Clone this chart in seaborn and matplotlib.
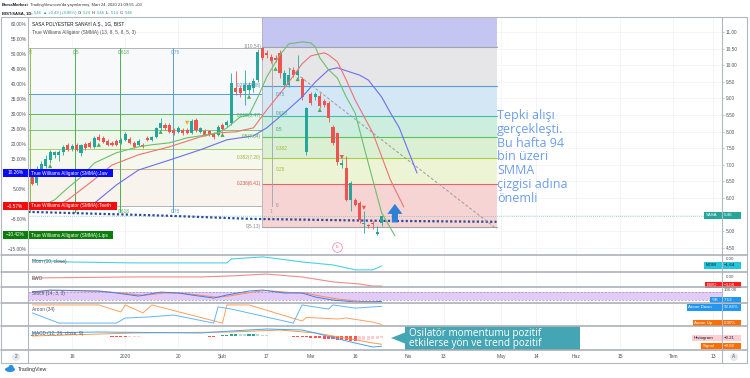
import matplotlib
matplotlib.use("Agg")
import matplotlib.pyplot as plt
from matplotlib.patches import Rectangle, Polygon, Circle, Ellipse
import seaborn as sns

# ---------------- data ----------------
bar_idx = list(range(-9, 71))          # trading-day index, 0 = 16 Dec 2019, 70 = 24 Mar 2020
opens = [6.63, 6.45, 6.88, 6.95, 7.14, 7.29, 7.29, 7.39, 7.60, 7.48,
         7.60, 7.36, 7.63, 7.66, 7.54, 7.84, 7.81, 7.72, 7.66, 7.72,
         7.66, 7.75, 7.78, 7.66, 7.60, 7.60, 7.80, 7.75, 7.84, 8.11,
         8.20, 8.20, 8.05, 7.99, 8.05, 8.05, 7.96, 8.35, 7.99, 8.02,
         8.02, 7.93, 7.90, 8.20, 8.20, 8.26, 9.31, 9.31, 9.22, 9.25,
         9.31, 9.55, 10.52, 10.37, 10.25, 10.22, 10.37, 9.40, 9.40, 9.85,
         9.70, 9.58, 7.39, 9.13, 9.04, 9.07, 8.92, 8.86, 8.14, 7.96,
         7.00, 6.90, 5.94, 5.94, 5.85, 5.20, 5.18, 5.25, 4.90, 5.24]
highs = [6.72, 6.95, 7.10, 7.30, 7.45, 7.42, 7.45, 7.60, 7.66, 7.62,
         7.66, 7.63, 7.68, 7.72, 7.85, 7.92, 7.85, 7.78, 7.70, 7.78,
         7.80, 7.98, 7.84, 7.70, 7.78, 7.66, 7.86, 7.88, 8.15, 8.41,
         8.26, 8.25, 8.10, 8.16, 8.10, 8.12, 8.38, 8.40, 8.15, 8.08,
         8.06, 7.98, 8.20, 8.26, 8.36, 9.76, 9.82, 9.40, 9.85, 9.50,
         9.60, 10.50, 10.54, 10.45, 10.35, 10.30, 10.45, 9.85, 9.90, 9.95,
         10.30, 9.65, 8.75, 9.20, 9.20, 9.15, 8.98, 8.92, 8.20, 8.00,
         7.18, 7.25, 6.50, 6.00, 5.90, 5.60, 5.22, 5.30, 5.15, 5.46]
lows = [6.38, 6.40, 6.80, 6.90, 7.05, 7.20, 7.10, 7.30, 7.40, 7.42,
        7.40, 7.25, 7.45, 7.50, 7.50, 7.70, 7.65, 7.55, 7.55, 7.55,
        7.62, 7.70, 7.62, 7.50, 7.55, 7.50, 7.70, 7.70, 7.80, 8.05,
        8.05, 7.95, 7.90, 7.95, 7.90, 7.92, 7.92, 8.00, 7.95, 7.86,
        7.86, 7.78, 7.85, 8.02, 8.15, 8.20, 9.10, 9.05, 8.80, 9.12,
        9.20, 9.50, 10.15, 10.20, 10.05, 10.10, 9.60, 9.30, 9.35, 9.65,
        9.60, 8.95, 7.30, 8.80, 8.95, 8.70, 8.75, 8.30, 7.60, 7.00,
        6.90, 5.90, 5.60, 5.75, 5.25, 4.95, 5.08, 5.05, 4.88, 5.14]
closes = [6.42, 6.88, 7.02, 7.17, 7.38, 7.38, 7.38, 7.54, 7.45, 7.57,
          7.45, 7.60, 7.51, 7.54, 7.81, 7.75, 7.69, 7.60, 7.60, 7.60,
          7.75, 7.93, 7.66, 7.54, 7.72, 7.54, 7.75, 7.84, 8.11, 8.26,
          8.11, 7.99, 7.96, 8.11, 7.96, 7.96, 8.32, 8.05, 8.11, 7.90,
          7.90, 7.84, 8.14, 8.08, 8.29, 9.46, 9.19, 9.16, 9.40, 9.40,
          9.52, 10.40, 10.22, 10.31, 10.13, 10.16, 9.76, 9.76, 9.70, 9.70,
          9.82, 9.04, 8.71, 8.86, 9.13, 8.77, 8.80, 8.41, 7.66, 7.08,
          7.05, 5.94, 6.45, 5.79, 5.34, 5.25, 5.14, 5.20, 4.98, 5.46]

jaw_idx = [4, 10, 15, 22, 29, 35, 41, 44, 48, 52, 55, 58, 60, 62, 65, 67, 70, 72, 74, 78]
jaw_val = [5.73, 6.39, 6.84, 7.14, 7.45, 7.75, 7.87, 8.11, 8.56, 9.04,
           9.49, 9.86, 9.92, 9.83, 9.70, 9.55, 9.04, 8.56, 8.11, 6.75]
teeth_idx = [-3, -1, 4, 9, 15, 22, 29, 33, 37, 41, 44, 48, 50, 52, 54, 57, 58, 60, 62, 64, 68, 72, 75]
teeth_val = [5.79, 5.94, 6.45, 6.99, 7.30, 7.54, 7.84, 7.96, 7.99, 8.11,
             8.65, 9.31, 9.67, 10.04, 10.28, 10.37, 10.31, 10.10, 9.55, 8.95,
             7.96, 6.54, 5.73]
lips_idx = [-5, -4, -1, 2, 5, 10, 15, 18, 22, 26, 29, 33, 35, 38, 40, 42, 44, 47, 49, 52,
            54, 55, 56, 58, 60, 62, 64, 66, 68, 70, 73]
lips_val = [5.88, 5.94, 6.30, 6.63, 7.05, 7.36, 7.54, 7.60, 7.66, 7.81,
            7.87, 7.96, 8.11, 8.44, 8.50, 9.04, 9.64, 10.31, 10.64, 10.70,
            10.67, 10.55, 10.22, 9.86, 9.61, 9.04, 8.56, 7.54, 6.54, 5.55, 4.86]

wk_idx = [-10, 20, 40, 70, 96]          # dotted weekly SMMA
wk_val = [5.58, 5.47, 5.37, 5.31, 5.28]
diag_idx = [49, 96]                     # grey dashed trend line
diag_val = [9.92, 5.07]

frac_up_idx = [-5, 6, 20, 34, 40, 46, 51, 56]
frac_up_val = [6.96, 7.60, 7.99, 7.90, 9.05, 9.89, 9.58, 8.65]
frac_dn_idx = [61, 66]
frac_dn_val = [7.23, 5.70]
frac_or_idx = [26]
frac_or_val = [8.26]

fib_right = [10.54, 9.38, 8.47, 7.84, 7.20, 6.41, 5.13]
fib_right_lbl = ["1(10.54)", "0.786(9.38)", "0.618(8.47)", "0.5(7.84)",
                 "0.382(7.20)", "0.236(6.41)", "0(5.13)"]
fib_left = [10.52, 9.13, 8.53, 8.05, 7.48, 6.87, 5.76]
fib_left_lbl = ["", "0.75", "0.618", "0.5", "0.382", "0.25", "0"]
ftime_idx = [-9.5, 0.7, 10.9, 22.9, 45.2]
ftime_top = ["32", "0.5", "0.618", "0.75", ""]
ftime_bot = ["0", "0.5", "0.618", "0.75", "1"]

mom_idx = [-9, -1, 14, 29, 35, 36, 43, 45, 52, 59, 64, 68, 69, 70]
mom_val = [0.8, 0.0, -0.4, -0.4, -0.4, 1.25, 2.1, 1.7, 0.0, -1.25, -3.3, -3.3, -2.5, -1.64]
ewo_idx = [-9, 14, 29, 36, 44, 52, 59, 65, 68, 70]
ewo_val = [0.0, 0.4, 0.4, 0.8, 1.5, 0.4, -1.5, -2.3, -3.1, -3.08]
stk_idx = [-9, -5, 6, 10, 15, 20, 24, 27, 32, 35, 40, 43, 48, 52, 55, 59, 64, 68, 70]
stk_val = [77, 92, 85, 70, 47, 77, 70, 55, 32, 55, 85, 92, 70, 70, 40, 17, 3, 3, 7.13]
std_idx = [-9, -4, 7, 11, 16, 21, 25, 28, 33, 36, 41, 44, 49, 53, 56, 60, 65, 68, 70]
std_val = [80, 88, 82, 70, 52, 70, 68, 57, 38, 50, 78, 88, 75, 68, 48, 25, 8, 4, 4]
aru_idx = [-9, 6, 11, 12, 16, 18, 34, 35, 40, 52, 53, 60, 62, 68, 70]
aru_val = [100, 100, 64, 100, 59, 100, 7, 100, 100, 18, 36, 28, 33, 12, 0]
ard_idx = [-9, -3, 10, 12, 17, 23, 32, 33, 36, 50, 52, 58, 59, 64, 68, 70]
ard_val = [59, 7, 7, 33, 38, 48, 7, 90, 79, 7, 100, 79, 100, 84, 90, 92.86]
macd_idx = [-9, 6, 29, 36, 44, 52, 55, 63, 68, 70]
macd_val = [0.3, 0.4, 0.3, 0.5, 0.7, 0.6, 0.3, -0.6, -1.1, -1.03]
sig_idx = [-9, 14, 36, 47, 55, 63, 68, 70]
sig_val = [0.0, 0.3, 0.4, 0.6, 0.3, -0.3, -0.7, -0.82]
hist_val = [0.15, 0.15, 0.12, 0.12, 0.10, 0.10, 0.08,
            0.05, 0.04, 0.03, 0.03, 0.02, 0.02, 0.02, 0.01, 0.01, 0.0, -0.02,
            -0.05, -0.08, -0.10, -0.10, -0.08, -0.06, -0.05,
            -0.03, -0.02, 0.0, 0.02, 0.03, 0.02, 0.0, -0.02, -0.03, -0.02, 0.0, 0.02, 0.02, 0.0, -0.03,
            -0.08, -0.10,
            0.05, 0.10, 0.15, 0.20, 0.22, 0.20, 0.18, 0.20, 0.22, 0.20, 0.15, 0.10,
            0.05, 0.02, 0.0, -0.02, -0.03, -0.05,
            -0.08, -0.10, -0.12, -0.15, -0.18, -0.20, -0.25, -0.30,
            -0.32, -0.35, -0.40, -0.42, -0.45, -0.45, -0.42, -0.40,
            -0.35, -0.30, -0.26, -0.21]

tick_idx = [0, 12, 24, 34, 44, 54, 64, 76, 84, 97, 105, 114, 124, 136, 145]
tick_lbl = ["16", "2020", "20", "Şub", "17", "Mar", "16", "Nis", "13", "May",
            "14", "Haz", "15", "Tem", "13"]
price_ticks = [4.5, 5.0, 5.5, 6.0, 6.5, 7.0, 7.5, 8.0, 8.5, 9.0, 9.5, 10.0, 10.5, 11.0]
price_hidden = [5.5]                 # covered by the SASA price label
pct_ticks = [60, 55, 50, 45, 40, 35, 30, 25, 20, 15, 10, 5, 0, -5, -10, -15]
pct_hidden = [10, 0, -10]            # covered by the alligator labels

# ---------------- style ----------------
sns.set_theme(style="white")
plt.rcParams['font.family'] = ['Liberation Sans', 'DejaVu Sans']
SM = 3.4
DARK = '#131722'
GREY = '#50535e'
UP, DN = '#26a69a', '#ef5350'
GRID = '#eef1f6'

fig = plt.figure(figsize=(7.5, 3.78), dpi=100)
fig.patch.set_facecolor('white')
W, H = 750.0, 378.0
XLIM = (-10, 147)


def rect(top, bottom, left=28, right=722):
    return [left / W, 1 - bottom / H, (right - left) / W, (bottom - top) / H]


def base(a, ylim):
    a.set_xlim(XLIM)
    a.set_ylim(*ylim)
    a.set_xticks(tick_idx)
    a.set_xticklabels([])
    a.tick_params(axis='x', length=0)
    a.grid(True, axis='x', color=GRID, lw=0.5)
    a.set_axisbelow(True)
    for s in a.spines.values():
        s.set_visible(False)
    a.set_facecolor('white')


# ---------------- main price panel ----------------
ax = fig.add_axes(rect(17, 255))
base(ax, (4.28, 11.45))
ax.grid(True, axis='y', color=GRID, lw=0.5)

# left fibonacci structure
L0, L1 = -10, 45.2
left_cols = ['#f8f9fa', '#eaf3fa', '#e7f5ea', '#eef7e9', '#f5f8ec', '#f8f3ec']
left_line = ['#b0b3ba', '#5b9bd5', '#5cb85c', '#7cc47f', '#a9cf6c', '#d4b48a', '#b0b3ba']
for i in range(len(fib_left) - 1):
    ax.add_patch(Rectangle((L0, fib_left[i + 1]), L1 - L0, fib_left[i] - fib_left[i + 1],
                           color=left_cols[i], lw=0, zorder=0.6))
for lv, c in zip(fib_left, left_line):
    ax.plot([L0, L1], [lv, lv], color=c, lw=0.7, zorder=0.8)
ftime_cols = ['#8bc34a', '#4caf50', '#4caf50', '#5b9bd5', '#9e9e9e']
for xi, c, t1, t2 in zip(ftime_idx, ftime_cols, ftime_top, ftime_bot):
    ax.plot([xi, xi], [fib_left[-1] - 0.18, fib_left[0]], color=c, lw=0.7, zorder=0.8)
    ax.text(xi - 0.6, fib_left[0] - 0.07, t1, color=c, fontsize=SM, va='top', ha='left')
    ax.text(xi - 0.6, 5.58, t2, color=c, fontsize=SM, va='center', ha='left')

# right fibonacci retracement box
R0, R1 = 43, 96.2
right_cols = ['#c5c5f1', '#e6e6e8', '#d3e7f4', '#cdeedf', '#dbf0d2', '#edf4d6', '#f7d4d4']
right_line = ['#a0a3aa', '#5a9bd4', '#3fbf9f', '#5cc25c', '#a6cd45', '#e06666', '#a0a3aa']
lab_cols = ['#888a92', '#5b8fc7', '#35a889', '#50a850', '#97b83a', '#d9534f', '#888a92']
bounds = [11.45] + fib_right
for i in range(len(bounds) - 1):
    ax.add_patch(Rectangle((R0, bounds[i + 1]), R1 - R0, bounds[i] - bounds[i + 1],
                           color=right_cols[i], lw=0, zorder=0.9))
for lv, c, lab, lc in zip(fib_right, right_line, fib_right_lbl, lab_cols):
    ax.plot([R0, R1], [lv, lv], color=c, lw=0.8, zorder=1.0)
    ax.text(R0 - 0.3, lv + 0.02, lab, color=lc, fontsize=SM, ha='right', va='center', zorder=6)
ax.plot([R0, R0], [fib_right[-1], 11.45], color='#b0b3ba', lw=0.6, zorder=1.0)
ax.plot([45.2, 45.2], [5.76, 10.25], color='#a0a3aa', lw=0.6, zorder=1.1)
for lv, lab, lc in zip(fib_left[1:], fib_left_lbl[1:],
                       ['#5b8fc7', '#35a889', '#50a850', '#97b83a', '#97b83a', '#888a92']):
    ax.text(46, lv, lab, color=lc, fontsize=SM, ha='left', va='center', zorder=6)

# weekly dotted line, trend line, last price line
sns.lineplot(x=wk_idx, y=wk_val, ax=ax, color='#2a4a9a', lw=1.6,
             linestyle=(0, (1, 1)), sort=False, zorder=3)
sns.lineplot(x=diag_idx, y=diag_val, ax=ax, color='#9a9a9a', lw=0.7,
             linestyle=(0, (3, 2)), sort=False, zorder=3)
ax.axhline(closes[-1], color=UP, lw=0.5, ls=(0, (1, 2)), alpha=0.8, zorder=2)

# candles
cols = [UP if c >= o else DN for o, c in zip(opens, closes)]
bottoms = [min(o, c) for o, c in zip(opens, closes)]
heights = [max(abs(c - o), 0.025) for o, c in zip(opens, closes)]
ax.vlines(bar_idx, lows, highs, colors=cols, lw=0.6, zorder=4)
ax.bar(bar_idx, heights, bottom=bottoms, width=0.7, color=cols, lw=0, zorder=4.5)

# alligator
sns.lineplot(x=jaw_idx, y=jaw_val, ax=ax, color='#6e6ef0', lw=0.8, sort=False, zorder=5)
sns.lineplot(x=teeth_idx, y=teeth_val, ax=ax, color='#f07272', lw=0.8, sort=False, zorder=5)
sns.lineplot(x=lips_idx, y=lips_val, ax=ax, color='#6cbf6c', lw=0.8, sort=False, zorder=5)

# fractal markers
sns.scatterplot(x=frac_up_idx, y=frac_up_val, ax=ax, marker='^', s=9, color='#4caf50',
                edgecolor='none', zorder=6)
sns.scatterplot(x=frac_dn_idx, y=frac_dn_val, ax=ax, marker='v', s=9, color='#ef5350',
                edgecolor='none', zorder=6)
sns.scatterplot(x=frac_or_idx, y=frac_or_val, ax=ax, marker='v', s=9, color='#f9a825',
                edgecolor='none', zorder=6)

# event marker and arrow
sns.scatterplot(x=[60], y=[4.52], ax=ax, s=48, color='white', edgecolor='#f48fb1',
                linewidth=0.6, zorder=6)
ax.text(60, 4.52, "E", fontsize=3.2, color='#e57373', ha='center', va='center', zorder=7)
ax.annotate('', xy=(73, 5.82), xytext=(73, 5.26),
            arrowprops=dict(arrowstyle='simple,head_length=0.9,head_width=1.35,tail_width=0.55',
                            color='#2f7fd6', lw=0, mutation_scale=8, shrinkA=0, shrinkB=0),
            zorder=7)
ax.set_xlabel('')
ax.set_ylabel('')

# left percentage scale (twin) and right price scale
axp = ax.twinx()
axp.set_ylim(-17, 62.33)
axp.set_yticks(pct_ticks)
axp.set_yticklabels(["" if p in pct_hidden else f"{p:.2f}%".replace('-', '\u2212')
                     for p in pct_ticks])
axp.yaxis.tick_left()
axp.tick_params(axis='y', left=True, labelleft=True, right=False, labelright=False,
                length=0, labelsize=SM, pad=1.2, labelcolor=GREY)
axp.grid(False)
for s in axp.spines.values():
    s.set_visible(False)

ax.set_yticks(price_ticks)
ax.set_yticklabels(["" if p in price_hidden else f"{p:.2f}" for p in price_ticks])
ax.yaxis.tick_right()
ax.tick_params(axis='y', right=True, labelright=True, left=False, labelleft=False,
               length=1.5, width=0.4, color='#9598a1', labelsize=SM, pad=1.2,
               labelcolor=GREY)

# ---------------- sub panels ----------------
axm = fig.add_axes(rect(255, 272))
base(axm, (-4.2, 2.9))
axm.set_yticks([])
sns.lineplot(x=mom_idx, y=mom_val, ax=axm, color='#4dd0e1', lw=0.8, sort=False)

axe = fig.add_axes(rect(272, 287))
base(axe, (-3.46, 2.3))
axe.set_yticks([])
sns.lineplot(x=ewo_idx, y=ewo_val, ax=axe, color='#f28b8b', lw=0.8, sort=False)

axs = fig.add_axes(rect(287, 303))
base(axs, (-5, 115))
axs.set_yticks([])
axs.axhspan(20, 80, xmin=0, xmax=1, color='#e2ccf7', lw=0, zorder=0.7)
for lv in (20, 80):
    axs.axhline(lv, color='#9d8fb5', lw=0.5, ls=(0, (3, 2)), zorder=0.8)
sns.lineplot(x=std_idx, y=std_val, ax=axs, color='#ff8a50', lw=0.7, sort=False)
sns.lineplot(x=stk_idx, y=stk_val, ax=axs, color='#3d7ef0', lw=0.7, sort=False)

axa = fig.add_axes(rect(303, 326))
base(axa, (-8, 110))
axa.set_yticks([])
sns.lineplot(x=aru_idx, y=aru_val, ax=axa, color='#ffa060', lw=0.7, sort=False)
sns.lineplot(x=ard_idx, y=ard_val, ax=axa, color='#64b5f6', lw=0.7, sort=False)

axh = fig.add_axes(rect(326, 350))
base(axh, (-1.4, 1.0))
axh.set_yticks([])
hcols = []
for i, v in enumerate(hist_val):
    prev = hist_val[i - 1] if i > 0 else v
    if v >= 0:
        hcols.append('#26a69a' if v >= prev else '#b2dfdb')
    else:
        hcols.append('#ff5252' if v <= prev else '#ffcdd2')
axh.bar(bar_idx, hist_val, width=0.7, color=hcols, lw=0, zorder=2)
sns.lineplot(x=sig_idx, y=sig_val, ax=axh, color='#ff9a40', lw=0.7, sort=False)
sns.lineplot(x=macd_idx, y=macd_val, ax=axh, color='#42a5f5', lw=0.7, sort=False)

axt = fig.add_axes(rect(350, 363))
base(axt, (0, 1))
axt.set_yticks([])
axt.grid(False)
for xi, lab in zip(tick_idx, tick_lbl):
    axt.text(xi, 0.48, lab, fontsize=3.6, color=GREY, ha='center', va='center')

for a in (axm, axe, axs, axa, axh, axt):
    a.set_xlabel('')
    a.set_ylabel('')

# ---------------- overlay (pixel coordinates) ----------------
ov = fig.add_axes([0, 0, 1, 1], zorder=10)
ov.set_xlim(0, W)
ov.set_ylim(H, 0)
ov.axis('off')
ov.patch.set_alpha(0)


def T(x, y, s, size=SM, color=DARK, ha='left', va='center', weight='normal', **kw):
    return ov.text(x, y, s, fontsize=size, color=color, ha=ha, va=va, fontweight=weight, **kw)


def chain(x, y, pieces, size=3.1, gap=0.9):
    t = T(x, y, pieces[0][0], size=size, color=pieces[0][1], weight=pieces[0][2])
    for s, c, w in pieces[1:]:
        t = ov.annotate(s, xy=(1, 0.5), xycoords=t, xytext=(gap, 0),
                        textcoords='offset points', ha='left', va='center',
                        fontsize=size, color=c, fontweight=w)
    return t


# frame and separators
FR = '#b4b7bf'
ov.add_patch(Rectangle((1, 17), 746, 346, fill=False, ec=FR, lw=0.8))
for xv in (28, 722):
    ov.plot([xv, xv], [17, 363], color=FR, lw=0.8)
for yv in (255, 272, 287, 303, 326, 350):
    ov.plot([1, 747], [yv, yv], color='#a7aab3', lw=1.1)

# header
chain(2, 5, [("BorsaMerkezi", DARK, 'bold'),
             ("TradingView.com'da yayınlanmış, Mart 24, 2020 21:09:55 +03", '#333', 'normal')],
      size=3.0)
chain(2, 13, [("BIST:SASA, 1D:", DARK, 'bold'), ("5.46", UP, 'normal'),
              ("\u25b2 +0.49 (+9.86%)", UP, 'normal'),
              ("O:", '#333', 'normal'), ("5.24", UP, 'normal'),
              ("H:", '#333', 'normal'), ("5.46", UP, 'normal'),
              ("L:", '#333', 'normal'), ("5.14", UP, 'normal'),
              ("C:", '#333', 'normal'), ("5.46", UP, 'normal')], size=3.0, gap=0.8)

T(32, 24.5, "SASA POLYESTER SANAYİ A.Ş., 1G, BIST", color=DARK)
T(32, 32.5, "True Williams Alligator (SMMA) (13, 8, 5, 8, 5, 3)", color=GREY)

# alligator legend boxes
for yc, val, name, c, w in ((173, "10.26%", "True Williams Alligator (SMMA):Jaw", '#0a0af5', 84),
                            (206, "\u22120.57%", "True Williams Alligator (SMMA):Teeth", '#f20c0c', 88),
                            (235, "\u221210.42%", "True Williams Alligator (SMMA):Lips", '#0b7d0b', 84)):
    ov.add_patch(Rectangle((3, yc - 3.6), 24.5, 7.2, color=c, lw=0))
    ov.add_patch(Rectangle((29, yc - 3.6), w, 7.2, color=c, lw=0))
    T(15.3, yc, val, color='white', ha='center')
    T(31, yc, name, color='white')

# big note
T(497, 109, "Tepki alışı\ngerçekleşti.\nBu hafta 94\nbin üzeri\nSMMA\nçizgisi adına\nönemli",
  size=9, color='#6d9eeb', va='top', family=['Open Sans', 'DejaVu Sans'], linespacing=1.08)


# right labels
def rlabel(yc, name, val, c, x0, tc='white'):
    ov.add_patch(Rectangle((x0, yc - 3.2), 741 - x0, 6.4, color=c, lw=0))
    T(x0 + 1.5, yc, name, color=tc, size=3.2)
    T(724, yc, val, color=tc, size=3.2)


rlabel(215.5, "SASA", "5.46", '#26a69a', 704)
rlabel(265.5, "MOM", "\u22121.64", '#26c6da', 704, tc=DARK)
rlabel(285, "EWO", "\u22123.08", '#ff1a1a', 705)
rlabel(300, "%K", "7.13", '#2196f3', 710)
rlabel(307.5, "Aroon Down", "92.86%", '#2196f3', 687)
rlabel(323, "Aroon Up", "0.00%", '#ff6d00', 693)
rlabel(338, "Histogram", "\u22120.21", '#ffcdd2', 692, tc=DARK)
rlabel(346, "Signal", "\u22120.82", '#ff6d00', 701)
T(726, 259.5, "0.00", color=GREY, size=3.2)
T(726, 277.5, "0.00", color=GREY, size=3.2)
T(723.5, 290, "100.00", color=GREY, size=3.2)

# sub-panel titles
T(32, 262, "Mom (10, close)", color=GREY)
T(32, 279, "EWO", color=GREY)
T(32, 294, "Stoch (14, 3, 3)", color=GREY)
T(32, 310, "Aroon (34)", color=GREY)
T(32, 333, "MACD (12, 26, close, 9)", color=GREY)

# callout
ov.add_patch(Polygon([(405, 326.5), (580, 326.5), (580, 350), (405, 350), (405, 343.5),
                      (391, 338), (405, 332.5)], closed=True, color='#44a6b4', lw=0))
T(409, 333.5, "Osilatör momentumu pozitif", size=7.2, color='white',
  family=['Open Sans', 'DejaVu Sans'])
T(409, 343.5, "etkilerse yön ve trend pozitif", size=7.2, color='white',
  family=['Open Sans', 'DejaVu Sans'])

# badges and logo
ov.add_patch(Circle((16, 357), 4, color='#e6e8ee', lw=0))
T(16, 357, "2", ha='center', color=GREY, size=3.4)
ov.add_patch(Circle((734, 357), 4, color='#e6e8ee', lw=0))
T(734, 357, "A", ha='center', color=GREY, size=3.4)
ov.add_patch(Ellipse((10, 369.5), 10, 5, color='#2a8fe0', lw=0))
ov.add_patch(Circle((11, 367.5), 2.6, color='#2a8fe0', lw=0))
T(18, 369, "TradingView", color='#333', size=3.8)

fig.savefig("out.png", dpi=100, facecolor='white')
